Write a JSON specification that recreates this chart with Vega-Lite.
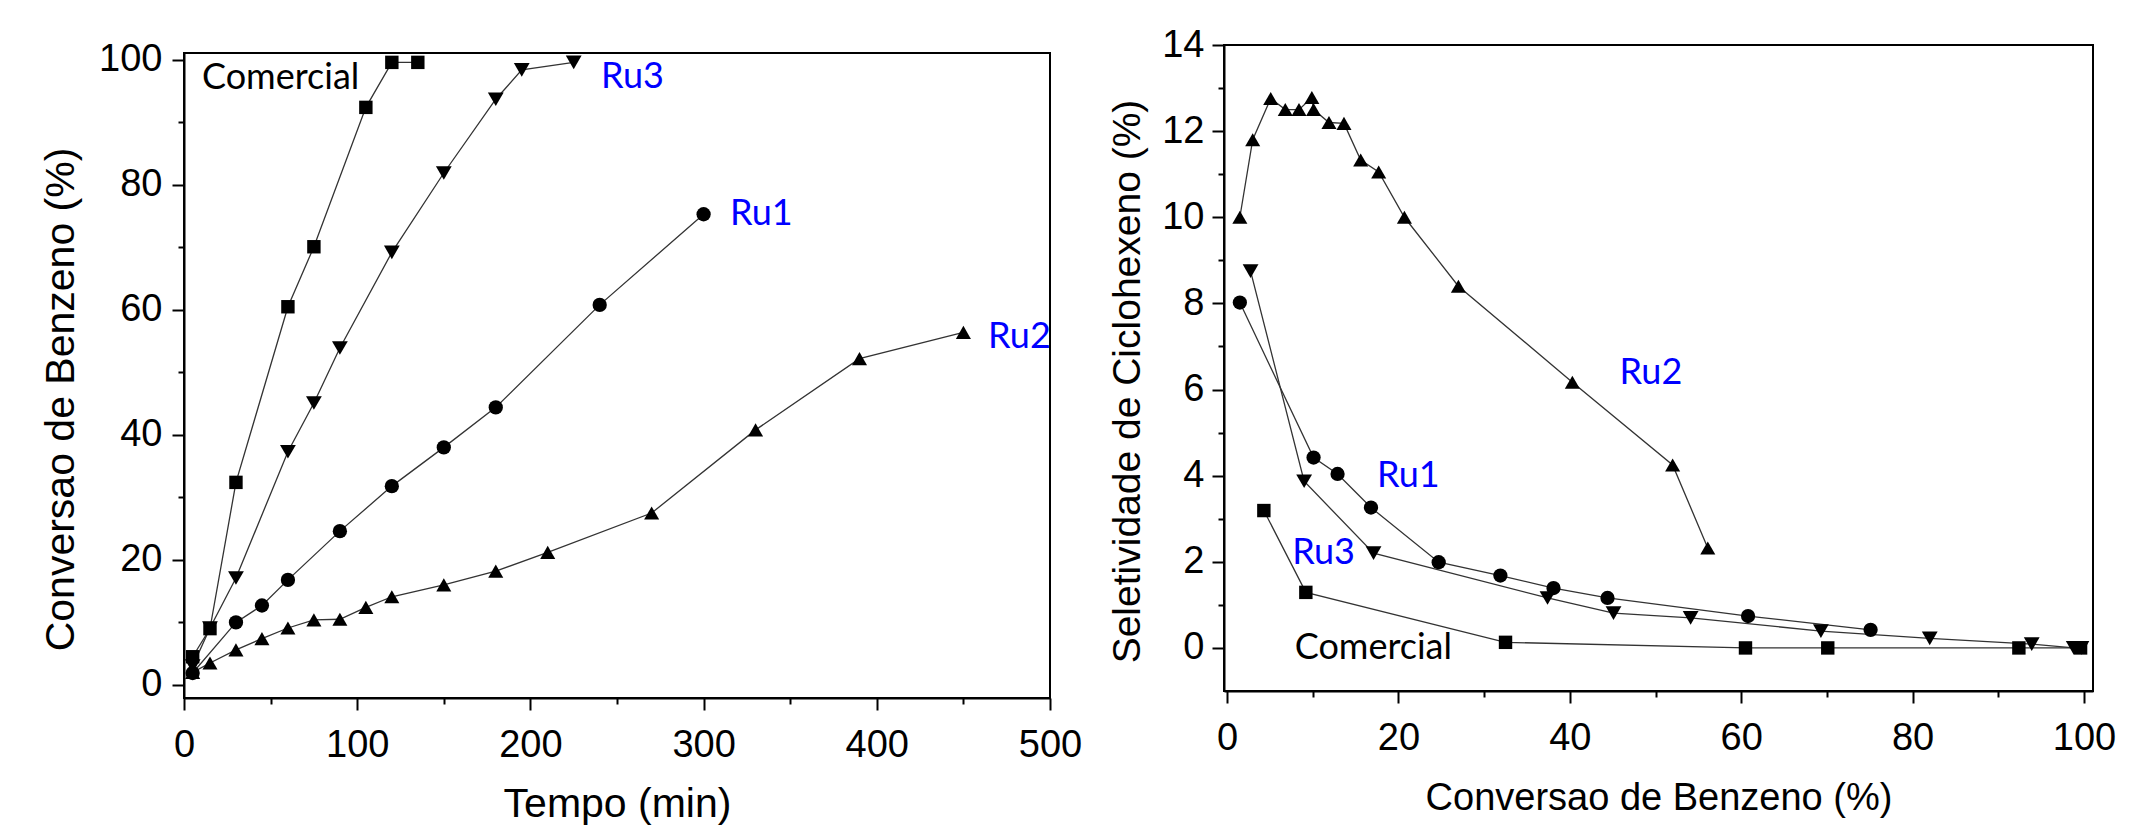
{
  "$schema": "https://vega.github.io/schema/vega-lite/v6.json",
  "padding": {"left": 39, "top": 18, "right": 0, "bottom": 0},
  "background": "white",
  "config": {
    "view": {"stroke": "black", "strokeWidth": 2},
    "axis": {"domainColor": "black", "domainWidth": 2, "tickColor": "black", "tickWidth": 2, "grid": false,
      "labelFont": "Liberation Sans", "labelColor": "black", "labelFlush": false, "labelOverlap": false,
      "titleFont": "Liberation Sans", "titleFontWeight": "normal", "titleColor": "black"}
  },
  "spacing": 24,
  "datasets": {
    "conv": [
      {"cat": "Comercial", "t": 5, "c": 4.5}, {"cat": "Comercial", "t": 15, "c": 9.0}, {"cat": "Comercial", "t": 30, "c": 32.4},
      {"cat": "Comercial", "t": 60, "c": 60.5}, {"cat": "Comercial", "t": 75, "c": 70.1}, {"cat": "Comercial", "t": 105, "c": 92.4},
      {"cat": "Comercial", "t": 120, "c": 99.6}, {"cat": "Comercial", "t": 135, "c": 99.6},
      {"cat": "Ru1", "t": 5, "c": 1.9}, {"cat": "Ru1", "t": 30, "c": 10.0}, {"cat": "Ru1", "t": 45, "c": 12.7}, {"cat": "Ru1", "t": 60, "c": 16.8},
      {"cat": "Ru1", "t": 90, "c": 24.6}, {"cat": "Ru1", "t": 120, "c": 31.8}, {"cat": "Ru1", "t": 150, "c": 38.0}, {"cat": "Ru1", "t": 180, "c": 44.4},
      {"cat": "Ru1", "t": 240, "c": 60.8}, {"cat": "Ru1", "t": 300, "c": 75.3},
      {"cat": "Ru2", "t": 5, "c": 2.0}, {"cat": "Ru2", "t": 15, "c": 3.5}, {"cat": "Ru2", "t": 30, "c": 5.6}, {"cat": "Ru2", "t": 45, "c": 7.4},
      {"cat": "Ru2", "t": 60, "c": 9.1}, {"cat": "Ru2", "t": 75, "c": 10.4}, {"cat": "Ru2", "t": 90, "c": 10.5}, {"cat": "Ru2", "t": 105, "c": 12.4},
      {"cat": "Ru2", "t": 120, "c": 14.1}, {"cat": "Ru2", "t": 150, "c": 16.0}, {"cat": "Ru2", "t": 180, "c": 18.2}, {"cat": "Ru2", "t": 210, "c": 21.2},
      {"cat": "Ru2", "t": 270, "c": 27.5}, {"cat": "Ru2", "t": 330, "c": 40.8}, {"cat": "Ru2", "t": 390, "c": 52.2}, {"cat": "Ru2", "t": 450, "c": 56.4},
      {"cat": "Ru3", "t": 5, "c": 3.0}, {"cat": "Ru3", "t": 15, "c": 9.1}, {"cat": "Ru3", "t": 30, "c": 17.1}, {"cat": "Ru3", "t": 60, "c": 37.3},
      {"cat": "Ru3", "t": 75, "c": 45.1}, {"cat": "Ru3", "t": 90, "c": 53.9}, {"cat": "Ru3", "t": 120, "c": 69.2}, {"cat": "Ru3", "t": 150, "c": 81.9},
      {"cat": "Ru3", "t": 180, "c": 93.7}, {"cat": "Ru3", "t": 195, "c": 98.4}, {"cat": "Ru3", "t": 225, "c": 99.6}
    ],
    "sel": [
      {"cat": "Comercial", "x": 4.3, "s": 3.19}, {"cat": "Comercial", "x": 9.2, "s": 1.29}, {"cat": "Comercial", "x": 32.5, "s": 0.13},
      {"cat": "Comercial", "x": 60.5, "s": 0.0}, {"cat": "Comercial", "x": 70.1, "s": 0.0}, {"cat": "Comercial", "x": 92.4, "s": 0.0},
      {"cat": "Comercial", "x": 99.6, "s": 0.0},
      {"cat": "Ru1", "x": 1.5, "s": 8.02}, {"cat": "Ru1", "x": 10.1, "s": 4.42}, {"cat": "Ru1", "x": 12.9, "s": 4.04}, {"cat": "Ru1", "x": 16.8, "s": 3.26},
      {"cat": "Ru1", "x": 24.7, "s": 1.99}, {"cat": "Ru1", "x": 31.9, "s": 1.68}, {"cat": "Ru1", "x": 38.1, "s": 1.39}, {"cat": "Ru1", "x": 44.4, "s": 1.16},
      {"cat": "Ru1", "x": 60.8, "s": 0.74}, {"cat": "Ru1", "x": 75.1, "s": 0.42},
      {"cat": "Ru2", "x": 1.5, "s": 10.0}, {"cat": "Ru2", "x": 3.0, "s": 11.8}, {"cat": "Ru2", "x": 5.1, "s": 12.76}, {"cat": "Ru2", "x": 6.8, "s": 12.5},
      {"cat": "Ru2", "x": 8.4, "s": 12.5}, {"cat": "Ru2", "x": 9.9, "s": 12.78}, {"cat": "Ru2", "x": 10.1, "s": 12.5}, {"cat": "Ru2", "x": 11.9, "s": 12.2},
      {"cat": "Ru2", "x": 13.65, "s": 12.18}, {"cat": "Ru2", "x": 15.6, "s": 11.33}, {"cat": "Ru2", "x": 17.7, "s": 11.05}, {"cat": "Ru2", "x": 20.7, "s": 10.0},
      {"cat": "Ru2", "x": 27.0, "s": 8.4}, {"cat": "Ru2", "x": 40.3, "s": 6.17}, {"cat": "Ru2", "x": 52.0, "s": 4.25}, {"cat": "Ru2", "x": 56.1, "s": 2.32},
      {"cat": "Ru3", "x": 2.75, "s": 8.75}, {"cat": "Ru3", "x": 9.0, "s": 3.87}, {"cat": "Ru3", "x": 17.1, "s": 2.2}, {"cat": "Ru3", "x": 37.4, "s": 1.16},
      {"cat": "Ru3", "x": 45.1, "s": 0.81}, {"cat": "Ru3", "x": 54.1, "s": 0.7}, {"cat": "Ru3", "x": 69.3, "s": 0.39}, {"cat": "Ru3", "x": 82.0, "s": 0.22},
      {"cat": "Ru3", "x": 93.9, "s": 0.09}, {"cat": "Ru3", "x": 98.8, "s": 0.0}, {"cat": "Ru3", "x": 99.7, "s": 0.0}
    ],
    "lab1": [
      {"label": "Comercial", "t": 10.4, "c": 97.1, "col": "black"},
      {"label": "Ru3", "t": 240.8, "c": 97.3, "col": "blue"},
      {"label": "Ru1", "t": 315.2, "c": 75.3, "col": "blue"},
      {"label": "Ru2", "t": 464.2, "c": 55.6, "col": "blue"}
    ],
    "lab2": [
      {"label": "Ru2", "x": 45.8, "s": 6.38, "col": "blue"},
      {"label": "Ru1", "x": 17.5, "s": 4.0, "col": "blue"},
      {"label": "Ru3", "x": 7.6, "s": 2.2, "col": "blue"},
      {"label": "Comercial", "x": 7.9, "s": 0.0, "col": "black"}
    ],
    "blank": [{"k": 1}]
  },
  "hconcat": [
    {
      "spacing": 0,
      "vconcat": [
        {
          "width": 10, "height": 18,
          "view": {"stroke": null},
          "data": {"name": "blank"},
          "mark": {"type": "point", "opacity": 0},
          "encoding": {}
        },
        {
          "width": 866, "height": 645,
          "resolve": {"axis": {"x": "independent", "y": "independent"}},
          "layer": [
            {
              "data": {"name": "conv"},
              "mark": {"type": "line", "color": "#333333", "strokeWidth": 1.3},
              "encoding": {
                "x": {"field": "t", "type": "quantitative", "scale": {"domain": [0, 500], "nice": false, "zero": false},
                  "axis": {"orient": "bottom", "values": [0, 100, 200, 300, 400, 500], "tickSize": 12, "labelFontSize": 38, "labelPadding": 16,
                    "title": "Tempo (min)", "titleFontSize": 41, "titlePadding": 20}},
                "y": {"field": "c", "type": "quantitative", "scale": {"domain": [-2.1, 101.1], "nice": false, "zero": false},
                  "axis": {"orient": "left", "values": [0, 20, 40, 60, 80, 100], "tickSize": 12, "labelFontSize": 38, "labelPadding": 10,
                    "title": "Conversao de Benzeno (%)", "titleFontSize": 41, "titlePadding": 16, "titleY": 346}},
                "detail": {"field": "cat", "type": "nominal"}
              }
            },
            {
              "data": {"name": "conv"},
              "mark": {"type": "point", "filled": true, "color": "black", "opacity": 1},
              "encoding": {
                "x": {"field": "t", "type": "quantitative",
                  "axis": {"orient": "bottom", "values": [50, 150, 250, 350, 450], "tickSize": 6, "labels": false, "domain": false, "title": null}},
                "y": {"field": "c", "type": "quantitative",
                  "axis": {"orient": "left", "values": [10, 30, 50, 70, 90], "tickSize": 6, "labels": false, "domain": false, "title": null}},
                "shape": {"field": "cat", "type": "nominal", "scale": {"domain": ["Comercial", "Ru1", "Ru2", "Ru3"], "range": ["square", "circle", "triangle-up", "triangle-down"]}, "legend": null},
                "size": {"field": "cat", "type": "nominal", "scale": {"domain": ["Comercial", "Ru1", "Ru2", "Ru3"], "range": [180, 250, 340, 340]}, "legend": null}
              }
            },
            {
              "data": {"name": "lab1"},
              "mark": {"type": "text", "font": "Lato", "fontSize": 36, "align": "left", "baseline": "middle"},
              "encoding": {
                "x": {"field": "t", "type": "quantitative", "axis": null},
                "y": {"field": "c", "type": "quantitative", "axis": null},
                "text": {"field": "label"},
                "color": {"field": "col", "type": "nominal", "scale": null}
              }
            }
          ]
        }
      ]
    },
    {
      "spacing": 0,
      "vconcat": [
        {
          "width": 10, "height": 1,
          "view": {"stroke": null},
          "data": {"name": "blank"},
          "mark": {"type": "point", "opacity": 0},
          "encoding": {}
        },
        {
          "width": 869, "height": 646,
          "resolve": {"axis": {"x": "independent", "y": "independent"}},
          "layer": [
            {
              "data": {"name": "sel"},
              "mark": {"type": "line", "color": "#333333", "strokeWidth": 1.3},
              "encoding": {
                "x": {"field": "x", "type": "quantitative", "scale": {"domain": [-0.35, 101.05], "nice": false, "zero": false},
                  "axis": {"orient": "bottom", "values": [0, 20, 40, 60, 80, 100], "tickSize": 12, "labelFontSize": 38, "labelPadding": 16,
                    "title": "Conversao de Benzeno (%)", "titleFontSize": 38, "titlePadding": 22}},
                "y": {"field": "s", "type": "quantitative", "scale": {"domain": [-1, 14], "nice": false, "zero": false},
                  "axis": {"orient": "left", "values": [0, 2, 4, 6, 8, 10, 12, 14], "tickSize": 12, "labelFontSize": 38, "labelPadding": 8,
                    "title": "Seletividade de Ciclohexeno (%)", "titleFontSize": 39, "titlePadding": 14, "titleY": 336}},
                "detail": {"field": "cat", "type": "nominal"}
              }
            },
            {
              "data": {"name": "sel"},
              "mark": {"type": "point", "filled": true, "color": "black", "opacity": 1},
              "encoding": {
                "x": {"field": "x", "type": "quantitative",
                  "axis": {"orient": "bottom", "values": [10, 30, 50, 70, 90], "tickSize": 6, "labels": false, "domain": false, "title": null}},
                "y": {"field": "s", "type": "quantitative",
                  "axis": {"orient": "left", "values": [1, 3, 5, 7, 9, 11, 13], "tickSize": 6, "labels": false, "domain": false, "title": null}},
                "shape": {"field": "cat", "type": "nominal", "scale": {"domain": ["Comercial", "Ru1", "Ru2", "Ru3"], "range": ["square", "circle", "triangle-up", "triangle-down"]}, "legend": null},
                "size": {"field": "cat", "type": "nominal", "scale": {"domain": ["Comercial", "Ru1", "Ru2", "Ru3"], "range": [170, 220, 240, 280]}, "legend": null}
              }
            },
            {
              "data": {"name": "lab2"},
              "mark": {"type": "text", "font": "Lato", "fontSize": 36, "align": "left", "baseline": "middle"},
              "encoding": {
                "x": {"field": "x", "type": "quantitative", "axis": null},
                "y": {"field": "s", "type": "quantitative", "axis": null},
                "text": {"field": "label"},
                "color": {"field": "col", "type": "nominal", "scale": null}
              }
            }
          ]
        }
      ]
    }
  ]
}
